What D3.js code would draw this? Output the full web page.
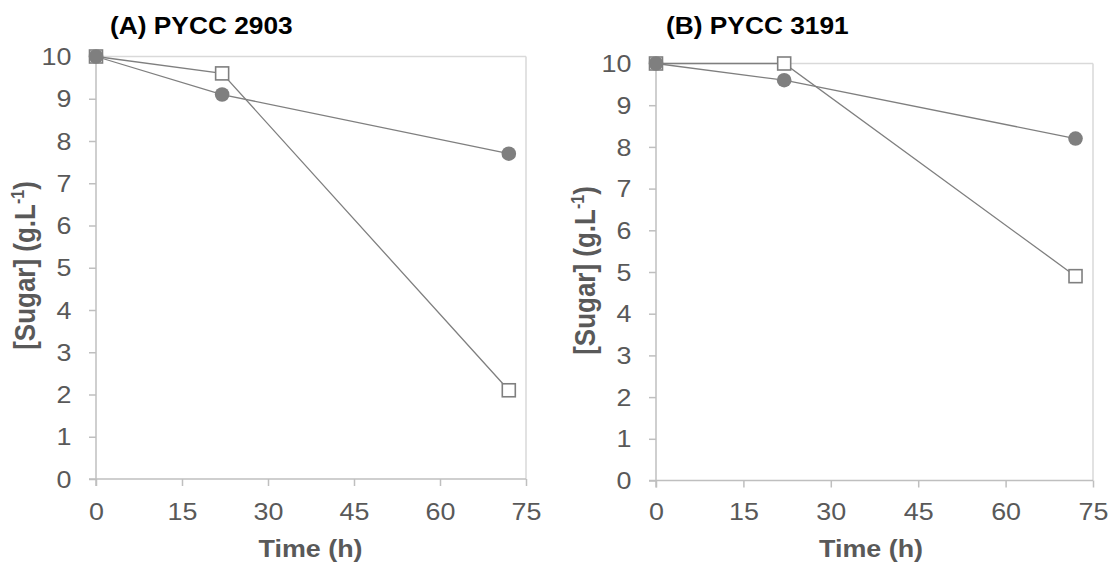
<!DOCTYPE html>
<html>
<head>
<meta charset="utf-8">
<script src="https://cdn.jsdelivr.net/npm/d3@7/dist/d3.min.js"></script>
<style>
  html, body { margin: 0; padding: 0; background: #fff; }
  svg { display: block; font-family: "Liberation Sans", Arial, sans-serif; }
</style>
</head>
<body>
<svg id="chart" width="1112" height="563"></svg>
<script>
// Sampling times (h)
const timeH = [0, 22, 72];

// Sugar concentration (g/L) per strain
const sugarA_circles = [10, 9.1, 7.7];
const sugarA_squares = [10, 9.6, 2.1];
const sugarB_circles = [10, 9.6, 8.2];
const sugarB_squares = [10, 10, 4.9];

const panelTitles = ["(A) PYCC 2903", "(B) PYCC 3191"];
const xTicks = [0, 15, 30, 45, 60, 75];
const yTicks = [0, 1, 2, 3, 4, 5, 6, 7, 8, 9, 10];
const xLabel = "Time (h)";

const panels = [
  { title: panelTitles[0], circles: sugarA_circles, squares: sugarA_squares,
    box: { x0: 96, x1: 526, yTop: 56.5, yBot: 479 }, titleX: 110, titleY: 33.5,
    yLabelX: 35, yLabelY: 265.5, xLabelX: 310.5 },
  { title: panelTitles[1], circles: sugarB_circles, squares: sugarB_squares,
    box: { x0: 656, x1: 1093, yTop: 63.5, yBot: 480.5 }, titleX: 666, titleY: 33.5,
    yLabelX: 595, yLabelY: 270.5, xLabelX: 871 }
];

const svg = d3.select("#chart");
const axisColor = "#bfbfbf";
const borderColor = "#d9d9d9";
const labelColor = "#595959";
const markColor = "#7f7f7f";
const FONT = "'Liberation Sans', Arial, sans-serif";
const SX = 1.12; // horizontal text stretch

panels.forEach(p => {
  const b = p.box;
  const x = d3.scaleLinear().domain([0, 75]).range([b.x0, b.x1]);
  const y = d3.scaleLinear().domain([0, 10]).range([b.yBot, b.yTop]);
  const g = svg.append("g");

  // plot-area border (top and right)
  g.append("line").attr("x1", b.x0).attr("x2", b.x1).attr("y1", b.yTop).attr("y2", b.yTop)
    .attr("stroke", borderColor).attr("stroke-width", 1.5);
  g.append("line").attr("x1", b.x1).attr("x2", b.x1).attr("y1", b.yTop).attr("y2", b.yBot)
    .attr("stroke", borderColor).attr("stroke-width", 1.5);

  // x axis
  const xa = g.append("g").attr("transform", `translate(0,${b.yBot})`)
    .call(d3.axisBottom(x).tickValues(xTicks).tickSize(7).tickFormat(d3.format("d")));
  xa.select(".domain").attr("stroke", axisColor).attr("stroke-width", 1.5)
    .attr("d", `M${b.x0 - 7},0H${b.x1}`);
  xa.selectAll(".tick line").attr("stroke", axisColor).attr("stroke-width", 1.5);
  xa.selectAll(".tick text")
    .attr("x", 0).attr("y", 0).attr("dy", 0)
    .attr("transform", `translate(0,${520 - b.yBot}) scale(${SX},1)`)
    .attr("fill", labelColor).style("font-size", "24px").style("font-family", FONT);

  // y axis
  const ya = g.append("g").attr("transform", `translate(${b.x0},0)`)
    .call(d3.axisLeft(y).tickValues(yTicks).tickSize(7).tickFormat(d3.format("d")));
  ya.select(".domain").attr("stroke", axisColor).attr("stroke-width", 1.5)
    .attr("d", `M0,${b.yTop}V${b.yBot + 7}`);
  ya.selectAll(".tick line").attr("stroke", axisColor).attr("stroke-width", 1.5);
  ya.selectAll(".tick text")
    .attr("x", 0).attr("dy", "0.34em")
    .attr("transform", `translate(-24.5,0) scale(${SX},1)`)
    .attr("fill", labelColor).style("font-size", "24px").style("font-family", FONT);

  // panel title
  g.append("text")
    .attr("transform", `translate(${p.titleX},${p.titleY}) scale(${SX},1)`)
    .attr("fill", "#000").style("font-size", "23.5px").style("font-weight", "bold")
    .text(p.title);

  // axis titles
  g.append("text")
    .attr("transform", `translate(${p.xLabelX},557) scale(${SX},1)`)
    .attr("text-anchor", "middle").attr("fill", labelColor)
    .style("font-size", "24px").style("font-weight", "bold").text(xLabel);

  const yl = g.append("text")
    .attr("transform", `translate(${p.yLabelX},${p.yLabelY}) scale(${SX},1) rotate(-90)`)
    .attr("text-anchor", "middle").attr("fill", labelColor)
    .style("font-size", "26px").style("font-weight", "bold");
  yl.append("tspan").text("[Sugar] (g.L");
  yl.append("tspan").attr("dy", -10).style("font-size", "16px").text("-1");
  yl.append("tspan").attr("dy", 10).text(")");

  const line = d3.line().x(d => x(d[0])).y(d => y(d[1]));
  const sq = timeH.map((t, i) => [t, p.squares[i]]);
  const ci = timeH.map((t, i) => [t, p.circles[i]]);

  // connecting lines
  [sq, ci].forEach(pts => {
    g.append("path").datum(pts).attr("d", line)
      .attr("fill", "none").attr("stroke", markColor).attr("stroke-width", 1.3);
  });

  // open squares
  g.selectAll(".sq").data(sq).enter().append("rect")
    .attr("x", d => x(d[0]) - 6.5).attr("y", d => y(d[1]) - 6.5)
    .attr("width", 13).attr("height", 13)
    .attr("fill", "#fff").attr("stroke", markColor).attr("stroke-width", 1.6);

  // filled circles
  g.selectAll(".ci").data(ci).enter().append("circle")
    .attr("cx", d => x(d[0])).attr("cy", d => y(d[1])).attr("r", 7.3)
    .attr("fill", markColor);
});
</script>
</body>
</html>
